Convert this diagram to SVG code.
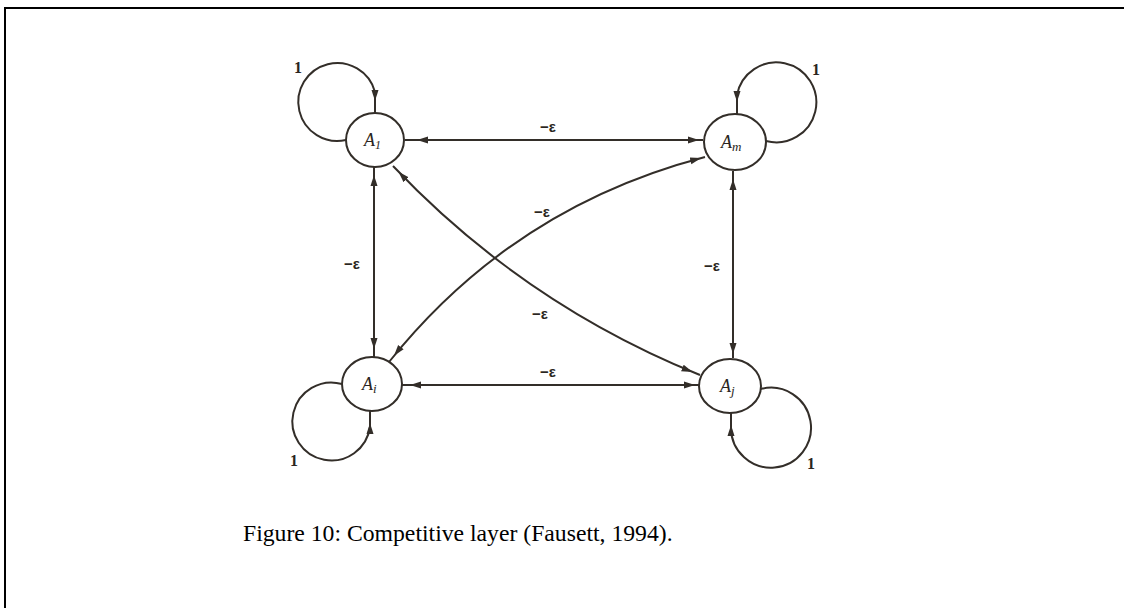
<svg xmlns="http://www.w3.org/2000/svg" width="1124" height="608" viewBox="0 0 1124 608">
<style>
.edge{fill:none;stroke:#332e29;stroke-width:2}
.node{fill:#fff;stroke:#332e29;stroke-width:2}
.nl{font-family:"Liberation Serif",serif;font-style:italic;fill:#2a2520}
.el{font-family:"Liberation Sans",sans-serif;font-weight:bold;font-size:15px;fill:#2a2520;text-anchor:middle}
.one{font-family:"Liberation Serif",serif;font-weight:bold;font-size:16px;fill:#2a2520;text-anchor:middle}
.cap{font-family:"Liberation Serif",serif;font-size:23.7px;fill:#000}
</style>
<defs>
<marker id="m4" viewBox="0 -5 30 10" markerWidth="30" markerHeight="10" refX="15" refY="0" orient="auto-start-reverse" markerUnits="userSpaceOnUse"><path d="M0,-3.5 L11,0 L0,3.5 z" fill="#332e29"/></marker>
<marker id="m8" viewBox="0 -5 30 10" markerWidth="30" markerHeight="10" refX="19" refY="0" orient="auto-start-reverse" markerUnits="userSpaceOnUse"><path d="M0,-3.5 L11,0 L0,3.5 z" fill="#332e29"/></marker>
<marker id="m12" viewBox="0 -5 30 10" markerWidth="30" markerHeight="10" refX="23" refY="0" orient="auto-start-reverse" markerUnits="userSpaceOnUse"><path d="M0,-3.5 L11,0 L0,3.5 z" fill="#332e29"/></marker>
</defs>
<rect width="1124" height="608" fill="#fff"/>
<path d="M5,608 V8 H1124" fill="none" stroke="#000" stroke-width="2"/>
<g id="connectors">
<path class="edge" d="M405,140 H703" marker-start="url(#m12)" marker-end="url(#m4)"/>
<path class="edge" d="M402,385 H699" marker-start="url(#m8)" marker-end="url(#m4)"/>
<path class="edge" d="M374,167 V357" marker-start="url(#m8)" marker-end="url(#m8)"/>
<path class="edge" d="M733,171 V358" marker-start="url(#m8)" marker-end="url(#m4)"/>
<path class="edge" d="M393,166 Q524,304 700,375" marker-start="url(#m8)" marker-end="url(#m8)"/>
<path class="edge" d="M389,362 Q513,207 705,157" marker-start="url(#m8)" marker-end="url(#m4)"/>
<path class="edge" d="M346,140 A39,39 0 1 1 375,92 L375,113" marker-end="url(#m12)"/>
<path class="edge" d="M766,141 A40,40 0 1 0 737,95 L737,114" marker-end="url(#m12)"/>
<path class="edge" d="M342,384 A39,39 0 1 0 370,427 L370,411" marker-end="url(#m12)"/>
<path class="edge" d="M761,389 A40,40 0 1 1 731,428 L731,413" marker-end="url(#m12)"/>
<text class="el" x="548" y="132">−ε</text>
<text class="el" x="548" y="377">−ε</text>
<text class="el" x="352" y="269">−ε</text>
<text class="el" x="712" y="271">−ε</text>
<text class="el" x="542" y="217">−ε</text>
<text class="el" x="540" y="319">−ε</text>
<text class="one" x="298" y="73">1</text>
<text class="one" x="816" y="75">1</text>
<text class="one" x="294" y="466">1</text>
<text class="one" x="811" y="469">1</text>
</g>
<g id="A1">
<ellipse class="node" cx="375" cy="140" rx="29" ry="27"/>
<text class="nl" x="364" y="146" font-size="18">A<tspan font-size="12" dy="3">1</tspan></text>
</g>
<g id="Am">
<ellipse class="node" cx="735" cy="142" rx="31" ry="28"/>
<text class="nl" x="721" y="148" font-size="18">A<tspan font-size="13" dy="3">m</tspan></text>
</g>
<g id="Ai">
<ellipse class="node" cx="372" cy="384" rx="30" ry="27"/>
<text class="nl" x="362" y="390" font-size="18">A<tspan font-size="13" dy="3">i</tspan></text>
</g>
<g id="Aj">
<ellipse class="node" cx="730" cy="386" rx="31" ry="27"/>
<text class="nl" x="720" y="392" font-size="18">A<tspan font-size="13" dy="3">j</tspan></text>
</g>
<text class="cap" x="243" y="541">Figure 10: Competitive layer (Fausett, 1994).</text>
</svg>
